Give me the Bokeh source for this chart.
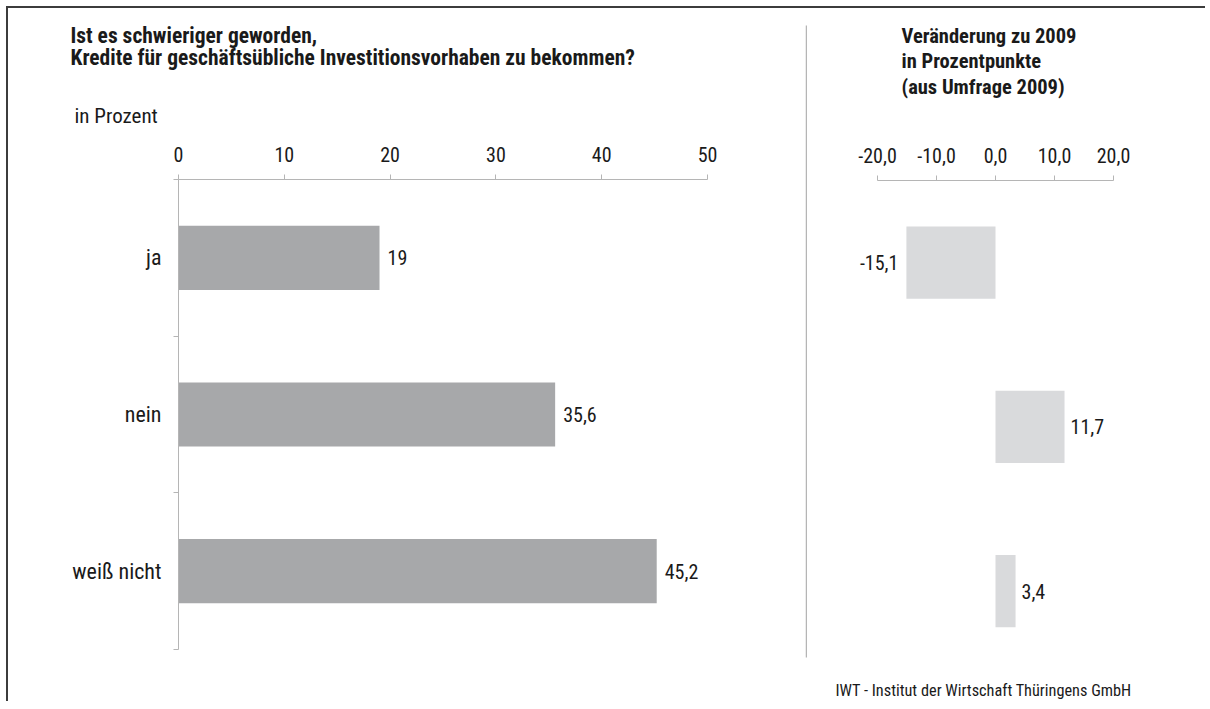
from bokeh.plotting import figure
from bokeh.models import ColumnDataSource, Range1d, FixedTicker, Label, BoxAnnotation
from bokeh.layouts import row
from bokeh.embed import file_html
from bokeh.resources import INLINE
from bokeh.core.properties import value

# ---------------- data ----------------
categories = ["ja", "nein", "weiß nicht"]
share_percent = [19, 35.6, 45.2]
change_vs_2009 = [-15.1, 11.7, 3.4]
left_ticks = [0, 10, 20, 30, 40, 50]
right_ticks = [-20, -10, 0, 10, 20]
right_tick_labels = ["-20,0", "-10,0", "0,0", "10,0", "20,0"]
title_left = ["Ist es schwieriger geworden,",
              "Kredite für geschäftsübliche Investitionsvorhaben zu bekommen?"]
unit_label = "in Prozent"
title_right = ["Veränderung zu 2009", "in Prozentpunkte", "(aus Umfrage 2009)"]
source_note = "IWT - Institut der Wirtschaft Thüringens GmbH"

# ---------------- styles ----------------
FONT = "'Roboto Condensed', 'Liberation Sans Narrow', 'DejaVu Sans Condensed', 'Arial Narrow', sans-serif"
TXT = "#1a1a1a"
AXC = "#b5b5b5"
BAR_L = "#a7a8aa"
BAR_R = "#d9dadc"


def de(v):
    return f"{v:g}".replace(".", ",")


def px_map(px0, v0, px1, v1):
    k = (v1 - v0) / (px1 - px0)
    return lambda px: v0 + (px - px0) * k


pos = [i + 0.5 for i in range(len(categories))]
n = len(categories)

# ---------------- left chart (full-canvas frame, axes at fixed locations) ----------------
W1, H1 = 797, 693
X1 = px_map(170, 0, 699, left_ticks[-1])   # canvas px -> data x
Y1 = px_map(171, 0, 641, n)                # canvas px -> data y

src1 = ColumnDataSource(dict(pos=pos, val=share_percent,
                             lab=[de(v) for v in share_percent]))
p1 = figure(width=W1, height=H1, x_range=Range1d(X1(0), X1(W1)),
            y_range=Range1d(Y1(H1), Y1(0)),
            output_backend="svg", toolbar_location=None, x_axis_location="above",
            min_border=0)
p1.title.visible = False
p1.outline_line_color = None
p1.grid.visible = False
p1.hbar(y="pos", left=0, right="val", height=0.41, source=src1,
        fill_color=BAR_L, line_color=None)
p1.text(x="val", y="pos", text="lab", source=src1, x_offset=8,
        text_align="left", text_baseline="middle", text_font=value(FONT),
        text_font_size="20px", text_color=TXT)

xa = p1.xaxis[0]
xa.fixed_location = 0
xa.bounds = (left_ticks[0], left_ticks[-1])
xa.ticker = FixedTicker(ticks=left_ticks)
xa.major_tick_out = 5
xa.major_tick_in = 0
xa.minor_tick_out = 0
xa.minor_tick_in = 0
xa.axis_line_color = AXC
xa.major_tick_line_color = AXC
xa.major_label_text_font = FONT
xa.major_label_text_font_size = "20px"
xa.major_label_text_color = TXT
xa.major_label_standoff = 13

ya = p1.yaxis[0]
ya.fixed_location = 0
ya.bounds = (0, n)
ya.ticker = FixedTicker(ticks=pos, minor_ticks=list(range(n + 1)))
ya.major_label_overrides = {p: c for p, c in zip(pos, categories)}
ya.major_tick_out = 0
ya.major_tick_in = 0
ya.minor_tick_out = 5
ya.minor_tick_in = 0
ya.axis_line_color = AXC
ya.minor_tick_line_color = AXC
ya.major_label_text_font = FONT
ya.major_label_text_font_size = "22px"
ya.major_label_text_color = TXT
ya.major_label_standoff = 12

for i, t in enumerate(title_left):
    p1.add_layout(Label(x=X1(62), y=Y1(27 + 22 * i), text=t, text_font=FONT,
                        text_font_size="21.5px", text_font_style="bold",
                        text_color=TXT, text_baseline="middle", text_align="left"))
p1.add_layout(Label(x=X1(66), y=Y1(107), text=unit_label, text_font=FONT,
                    text_font_size="21px", text_color=TXT,
                    text_baseline="middle", text_align="left"))

# ---------------- right chart ----------------
W2, H2 = 400, 693
X2 = px_map(72, right_ticks[0], 308, right_ticks[-1])
Y2 = px_map(172, 0, 664.75, n)

src2 = ColumnDataSource(dict(pos=pos, val=change_vs_2009,
                             lab=[de(v) for v in change_vs_2009],
                             align=["right" if v < 0 else "left" for v in change_vs_2009],
                             off=[-8 if v < 0 else 6 for v in change_vs_2009]))
p2 = figure(width=W2, height=H2, x_range=Range1d(X2(0), X2(W2)),
            y_range=Range1d(Y2(H2), Y2(0)),
            output_backend="svg", toolbar_location=None, x_axis_location="above",
            min_border=0)
p2.title.visible = False
p2.outline_line_color = None
p2.grid.visible = False
p2.yaxis.visible = False
p2.hbar(y="pos", left=0, right="val", height=0.44, source=src2,
        fill_color=BAR_R, line_color=None)
p2.text(x="val", y="pos", text="lab", source=src2, x_offset="off",
        text_align="align", text_baseline="middle", text_font=value(FONT),
        text_font_size="20px", text_color=TXT)

xb = p2.xaxis[0]
xb.fixed_location = 0
xb.bounds = (right_ticks[0], right_ticks[-1])
xb.ticker = FixedTicker(ticks=right_ticks)
xb.major_label_overrides = {t: l for t, l in zip(right_ticks, right_tick_labels)}
xb.major_tick_out = 5
xb.major_tick_in = 0
xb.minor_tick_out = 0
xb.minor_tick_in = 0
xb.axis_line_color = AXC
xb.major_tick_line_color = AXC
xb.major_label_text_font = FONT
xb.major_label_text_font_size = "20px"
xb.major_label_text_color = TXT
xb.major_label_standoff = 13

for i, t in enumerate(title_right):
    p2.add_layout(Label(x=X2(96), y=Y2(27 + 25.5 * i), text=t, text_font=FONT,
                        text_font_size="20.5px", text_font_style="bold",
                        text_color=TXT, text_baseline="middle", text_align="left"))
p2.add_layout(Label(x=X2(30), y=Y2(682), text=source_note, text_font=FONT,
                    text_font_size="16.3px", text_color=TXT,
                    text_baseline="middle", text_align="left"))
# vertical separator between the two panels
p2.add_layout(BoxAnnotation(left=X2(0), right=X2(1.5), top=Y2(17), bottom=Y2(649),
                            fill_color=AXC, fill_alpha=1.0, line_color=None))

layout = row(p1, p2, styles={"border-top": "2px solid #3c3c3c",
                             "border-left": "2px solid #3c3c3c",
                             "margin-left": "6px", "margin-top": "6px"})

with open("out.html", "w") as f:
    f.write(file_html(layout, INLINE))
